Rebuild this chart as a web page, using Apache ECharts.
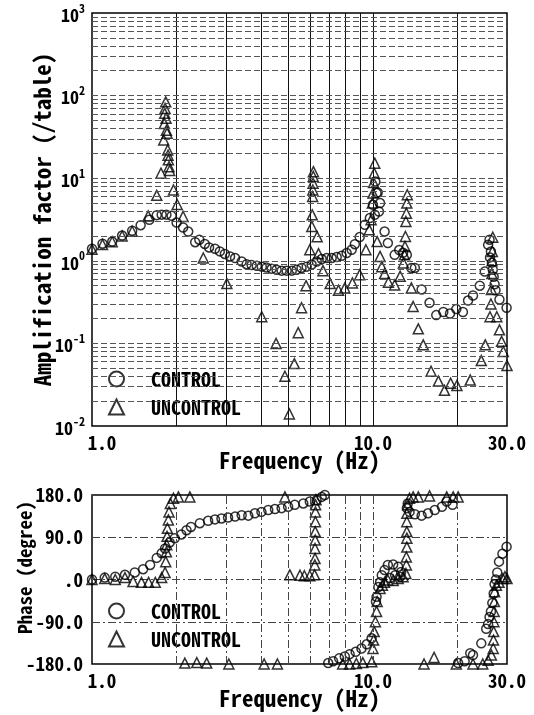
<!DOCTYPE html>
<html>
<head>
<meta charset="utf-8">
<script src="https://cdn.jsdelivr.net/npm/echarts@6/dist/echarts.min.js"></script>
<style>
html, body { margin: 0; padding: 0; background: #fff; }
#main { width: 534px; height: 715px; }
</style>
</head>
<body>
<div id="main"></div>
<script>
// amplification factor (/table), [frequency Hz, value]
var ampControl = [
  [1.00,1.40],[1.09,1.61],[1.18,1.71],[1.28,2.02],[1.39,2.31],[1.49,2.70],[1.60,3.14],[1.70,3.57],
  [1.77,3.62],[1.84,3.62],[1.92,3.50],[2.00,2.91],[2.11,2.53],[2.20,2.26],[2.33,1.68],[2.41,1.80],
  [2.52,1.60],[2.61,1.45],[2.74,1.40],[2.85,1.30],[2.97,1.21],[3.10,1.13],[3.23,1.08],[3.41,0.98],
  [3.55,0.91],[3.70,0.89],[3.86,0.87],[4.02,0.85],[4.18,0.83],[4.36,0.80],[4.54,0.78],[4.73,0.76],
  [4.93,0.76],[5.14,0.76],[5.35,0.78],[5.57,0.82],[5.81,0.85],[6.05,0.90],[6.31,0.98],[6.57,1.05],
  [6.85,1.08],[7.13,1.08],[7.43,1.11],[7.74,1.15],[8.06,1.24],[8.40,1.36],[8.62,1.59],[8.97,1.94],
  [9.36,2.73],[9.75,3.29],[10.0,4.76],[10.15,3.61],[10.2,9.1],[10.3,6.6],[10.4,6.7],[10.5,3.95],
  [10.6,5.0],[11.0,2.26],[11.3,1.64],[11.95,1.18],[12.4,1.35],[12.8,1.25],[13.2,1.18],[13.7,0.82],
  [14.1,0.82],[14.9,0.45],[15.9,0.31],[16.8,0.22],[17.8,0.24],[18.8,0.23],[19.8,0.26],[20.9,0.24],
  [21.8,0.33],[22.7,0.38],[24.0,0.50],[25.0,0.74],[25.7,1.56],[26.0,1.80],[26.1,1.10],[26.3,1.30],
  [26.5,0.95],[26.7,0.78],[26.9,0.64],[27.1,0.52],[27.3,0.44],[28.2,0.34],[29.9,0.27]
];
var ampUncontrol = [
  [1.00,1.38],[1.09,1.58],[1.18,1.70],[1.28,2.00],[1.39,2.28],[1.585,3.5],[1.70,6.2],[1.76,11.5],
  [1.80,29],[1.81,46],[1.815,61],[1.82,70],[1.83,84],[1.835,53],[1.84,38],[1.85,35],[1.86,22],
  [1.865,19],[1.87,16.7],[1.88,13.8],[1.89,12.4],[1.95,7.2],[2.01,4.8],[2.11,3.44],[2.49,1.08],
  [3.02,0.53],[4.02,0.21],[4.52,0.10],[4.86,0.04],[5.04,0.014],[5.25,0.057],[5.42,0.135],[5.57,0.27],
  [5.78,0.50],[5.96,1.36],[6.06,2.6],[6.08,3.6],[6.10,6.0],[6.11,7.2],[6.12,8.7],[6.13,10.5],
  [6.14,12.0],[6.33,1.96],[6.40,1.22],[6.64,0.76],[7.04,0.53],[7.54,0.44],[7.94,0.47],[8.45,0.54],
  [8.97,0.68],[9.44,1.36],[9.70,2.38],[9.85,3.14],[9.95,5.0],[10.0,6.6],[10.05,8.9],[10.1,11.5],
  [10.15,15.2],[10.35,1.71],[10.6,1.13],[10.75,0.85],[11.0,0.70],[11.35,0.55],[11.95,0.51],[12.5,0.65],
  [12.84,0.94],[12.95,1.18],[13.0,1.49],[13.05,1.97],[13.1,2.99],[13.15,3.77],[13.2,5.0],[13.25,6.3],
  [13.7,0.47],[13.9,0.28],[14.5,0.15],[15.1,0.096],[16.1,0.046],[17.1,0.035],[17.97,0.027],[18.9,0.033],
  [19.9,0.031],[22.2,0.036],[24.3,0.062],[25.1,0.096],[26.1,0.21],[26.3,0.3],[26.4,0.45],[26.5,0.7],
  [26.55,1.0],[26.6,1.3],[26.7,1.93],[27.6,0.21],[28.2,0.146],[28.7,0.106],[29.1,0.08],[30.0,0.054]
];
// phase (degree), [frequency Hz, value]
var phaseControl = [
  [1.0,0],[1.11,4],[1.21,6],[1.31,10],[1.42,15],[1.52,22],[1.61,31],[1.70,46],[1.77,56],[1.82,66],
  [1.89,79],[1.97,88],[2.08,96],[2.17,105],[2.25,112],[2.42,120],[2.59,125],[2.74,128],[2.89,130],
  [3.05,132],[3.23,134],[3.41,137],[3.60,136],[3.80,141],[4.01,144],[4.24,148],[4.48,150],[4.73,152],
  [4.99,155],[5.27,159],[5.65,162],[5.96,166],[6.30,169],[6.57,176],[6.74,180],[6.93,-178],[7.21,-174],
  [7.58,-168],[7.94,-164],[8.26,-159],[8.68,-154],[9.1,-147],[9.5,-138],[9.89,-125],[10.25,-47],
  [10.3,-37],[10.45,-16],[10.6,-6],[10.75,9],[11.0,20],[11.3,31],[11.8,32],[12.3,27],[12.6,16],
  [12.5,6],[12.0,9],[11.5,3],[13.2,152],[13.3,162],[13.5,144],[14.1,139],[14.9,136],[15.7,141],
  [16.6,148],[17.6,155],[18.3,166],[19.2,159],[20.1,-178],[21.2,-174],[22.2,-157],[22.7,-161],
  [24.3,-136],[25.3,-105],[25.7,-95],[26.0,-80],[26.3,-68],[26.6,-50],[26.9,-30],[27.1,-10],
  [27.4,0],[27.7,15],[28.1,38],[28.9,55],[29.9,70]
];
var phaseUncontrol = [
  [1.0,0],[1.11,2],[1.21,0],[1.31,4],[1.40,-4],[1.50,-6],[1.59,-6],[1.68,-6],[1.77,4],[1.82,15],
  [1.83,38],[1.84,59],[1.845,74],[1.85,92],[1.855,109],[1.87,127],[1.88,144],[1.90,162],[1.95,173],
  [2.03,176],[2.23,176],[2.14,-178],[2.36,-177],[2.56,-178],[3.07,-180],[4.10,-180],[4.57,-180],
  [4.86,176],[5.06,10],[5.5,9],[5.7,8],[5.96,8],[6.2,10],[6.21,31],[6.22,45],[6.22,66],[6.23,84],
  [6.23,102],[6.24,123],[6.24,144],[6.25,159],[6.27,170],[7.8,-180],[8.26,-180],[8.73,-179],
  [9.2,-177],[9.9,-175],[10.0,-147],[10.05,-129],[10.1,-111],[10.2,-90],[10.3,-68],[10.35,-47],
  [10.6,-19],[10.8,-12],[11.0,-6],[11.3,-1],[11.8,-2],[12.3,2],[12.8,6],[13.1,13],[13.15,31],
  [13.15,48],[13.2,69],[13.2,88],[13.2,102],[13.2,123],[13.2,141],[13.3,159],[13.5,173],[13.9,176],
  [14.5,176],[15.9,178],[18.3,176],[19.3,176],[20.1,176],[15.2,-180],[16.5,-166],[19.8,-180],
  [22.7,-180],[24.6,-180],[25.7,-172],[26.4,-161],[26.8,-147],[26.85,-129],[26.9,-111],[26.95,-90],
  [27.0,-68],[27.05,-47],[27.1,-26],[27.5,-12],[28.1,-6],[29.0,2],[29.5,6],[30.0,2]
];

var freqGridLines = [2, 3, 4, 5, 6, 7, 8, 9, 10, 20];
var ampDecades = [0.01, 0.1, 1, 10, 100];
var ampMultipliers = [1, 2, 3, 4, 5, 6, 7, 8, 9];
var legendNames = ['CONTROL', 'UNCONTROL'];

var FONT = "'Noto Sans Mono CJK JP', 'DejaVu Sans Mono', monospace";

var myChart = echarts.init(document.getElementById('main'));

// grid lines of the amplitude plot
var ampLines = [];
freqGridLines.forEach(function (f) {
  ampLines.push({ xAxis: f, lineStyle: { color: '#111', width: 1, type: 'solid' } });
});
ampDecades.forEach(function (d) {
  ampMultipliers.forEach(function (m) {
    if (d * m > 0.01) {
      ampLines.push({ yAxis: d * m, lineStyle: { color: '#555', width: 1, type: [6, 3] } });
    }
  });
});
// grid lines of the phase plot
var phaseLines = [];
freqGridLines.forEach(function (f) {
  phaseLines.push({ xAxis: f, lineStyle: { color: '#444', width: 1, type: [8, 3, 2, 3] } });
});

function hollow(symbol, size, xi, yi, name, data, lines) {
  var s = {
    name: name,
    type: 'scatter',
    xAxisIndex: xi,
    yAxisIndex: yi,
    symbol: symbol,
    symbolSize: size,
    clip: false,
    itemStyle: { color: 'rgba(0,0,0,0)', borderColor: '#000', borderWidth: 1.5 },
    data: data
  };
  if (lines) {
    s.markLine = {
      silent: true,
      symbol: ['none', 'none'],
      label: { show: false },
      animation: false,
      data: lines
    };
  }
  return s;
}

function freqAxis(gi) {
  return {
    type: 'log',
    logBase: 10,
    gridIndex: gi,
    min: 1,
    max: 30,
    name: 'Frequency (Hz)',
    nameLocation: 'middle',
    nameGap: 23,
    nameMoveOverlap: false,
    nameTextStyle: { fontFamily: FONT, fontSize: 23, fontWeight: 'bold', color: '#000' },
    axisLine: { show: false },
    axisTick: { show: false },
    splitLine: { show: false },
    axisLabel: {
      margin: 7,
      fontFamily: FONT,
      fontSize: 19,
      fontWeight: 'bold',
      color: '#000',
      formatter: function (v) {
        var t = (+v).toFixed(1);
        return v < 1.5 ? '{m|' + t + '}' : t;
      },
      rich: {
        m: { fontFamily: FONT, fontSize: 19, fontWeight: 'bold', color: '#000', padding: [0, 0, 0, 20] }
      }
    }
  };
}

function legendAt(top) {
  return {
    left: 103,
    top: top,
    orient: 'vertical',
    itemGap: 8,
    itemWidth: 15,
    itemHeight: 15,
    selectedMode: false,
    itemStyle: { borderWidth: 2 },
    textStyle: { fontFamily: FONT, fontSize: 20, fontWeight: 'bold', color: '#000', padding: [0, 0, 0, 22] },
    data: [{ name: legendNames[0], icon: 'circle' }, { name: legendNames[1], icon: 'triangle' }]
  };
}

var gridBase = { left: 92, right: 27, show: true, borderColor: '#000', borderWidth: 1.5, backgroundColor: 'transparent', outerBoundsMode: 'none', containLabel: false };

var option = {
  backgroundColor: '#fff',
  animation: false,
  grid: [
    Object.assign({ top: 13, height: 413 }, gridBase),
    Object.assign({ top: 495, height: 169 }, gridBase)
  ],
  legend: [legendAt(364), legendAt(596)],
  xAxis: [freqAxis(0), freqAxis(1)],
  yAxis: [
    {
      type: 'log',
      logBase: 10,
      gridIndex: 0,
      min: 0.01,
      max: 1000,
      name: 'Amplification factor (/table)',
      nameLocation: 'middle',
      nameGap: 38,
      nameMoveOverlap: false,
      nameTextStyle: { fontFamily: FONT, fontSize: 23, fontWeight: 'bold', color: '#000' },
      axisLine: { show: false },
      axisTick: { show: false },
      splitLine: { show: false },
      axisLabel: {
        margin: 7,
        formatter: function (v) {
          var e = Math.round(Math.log10(v));
          return '{b|10}{s|' + e + '}';
        },
        rich: {
          b: { fontFamily: FONT, fontSize: 18, fontWeight: 'bold', color: '#000', lineHeight: 22, verticalAlign: 'bottom' },
          s: { fontFamily: FONT, fontSize: 12, fontWeight: 'bold', color: '#000', lineHeight: 22, verticalAlign: 'top' }
        }
      }
    },
    {
      type: 'value',
      gridIndex: 1,
      min: -180,
      max: 180,
      interval: 90,
      name: 'Phase (degree)',
      nameLocation: 'middle',
      nameGap: 58,
      nameMoveOverlap: false,
      nameTextStyle: { fontFamily: FONT, fontSize: 19, fontWeight: 'bold', color: '#000', padding: [0, 0, 0, 24] },
      axisLine: { show: false },
      axisTick: { show: false },
      splitLine: { show: true, lineStyle: { color: '#444', width: 1, type: [8, 3, 2, 3] } },
      axisLabel: {
        margin: 9,
        fontFamily: FONT,
        fontSize: 19,
        fontWeight: 'bold',
        color: '#000',
        formatter: function (v) {
          return v === 0 ? '.0' : v.toFixed(1);
        }
      }
    }
  ],
  series: [
    hollow('circle', 9, 0, 0, legendNames[0], ampControl, ampLines),
    hollow('triangle', 10, 0, 0, legendNames[1], ampUncontrol),
    hollow('circle', 9, 1, 1, legendNames[0], phaseControl, phaseLines),
    hollow('triangle', 10, 1, 1, legendNames[1], phaseUncontrol)
  ]
};

myChart.setOption(option);
</script>
</body>
</html>
